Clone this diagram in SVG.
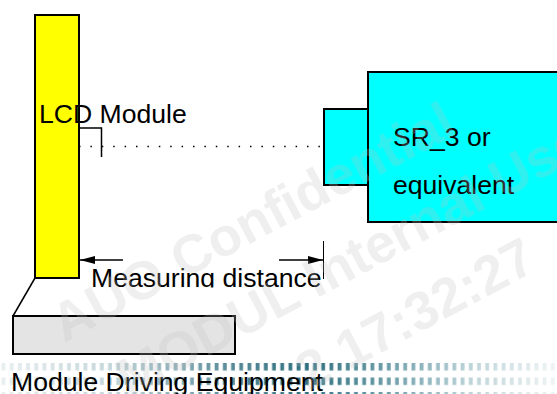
<svg xmlns="http://www.w3.org/2000/svg" width="557" height="394" viewBox="0 0 557 394">
<defs>
<marker id="ah" markerUnits="userSpaceOnUse" markerWidth="15" markerHeight="9" refX="15" refY="4.5" orient="auto"><path d="M0 0.500L15 4.500L0 8.500Z" fill="#000"/></marker>
<linearGradient id="fade" x1="0" x2="557" y1="0" y2="0" gradientUnits="userSpaceOnUse"><stop offset="0" stop-color="#e8eff0"/><stop offset=".2" stop-color="#c4d6da"/><stop offset=".4" stop-color="#5f8f9c"/><stop offset=".55" stop-color="#2f6f80"/><stop offset=".7" stop-color="#6f9faa"/><stop offset=".85" stop-color="#bfd5da"/><stop offset="1" stop-color="#f0f4f5"/></linearGradient>
<pattern id="dots" width="8.200" height="14.500" patternUnits="userSpaceOnUse" x="0" y="363"><rect x="1.500" y="0" width="3.800" height="7.500" fill="#fff"/></pattern>
<mask id="dotmask" maskUnits="userSpaceOnUse" x="0" y="360" width="557" height="34"><rect x="0" y="360" width="557" height="34" fill="url(#dots)"/></mask>
<clipPath id="mclip"><rect x="85" y="260" width="245" height="27.500"/></clipPath>
</defs>
<style>
text{font-family:"Liberation Sans",Arial,sans-serif;fill:#000}
.t{font-size:26.600px}
.box{stroke:#000;stroke-width:2}
.wm{font-size:54px;font-weight:bold;fill:#c0c0c0;fill-opacity:.25}
.ln{stroke:#000;stroke-width:1.500;fill:none}
</style>
<rect width="557" height="394" fill="#fff"/>
<g id="strip"><rect x="0" y="360" width="557" height="34" fill="url(#fade)" mask="url(#dotmask)"/></g>
<g id="lcd"><rect class="box" x="35" y="15" width="44" height="263" fill="#ff0"/></g>
<g id="equip"><rect class="box" x="13" y="316" width="222" height="38" fill="#e4e4e4"/></g>
<g id="sensor"><rect class="box" x="324" y="109" width="45" height="76" fill="#0ff"/><rect class="box" x="368" y="72" width="195" height="150" fill="#0ff"/></g>
<g id="connectors">
<path class="ln" d="M79 128H101.500V157"/>
<path d="M79 146.500H322" stroke="#000" stroke-width="1.500" stroke-dasharray="1.500 9.900" fill="none"/>
<path class="ln" d="M35 278L13 316"/>
<path class="ln" d="M123 260H80" marker-end="url(#ah)"/>
<path class="ln" d="M279 260H323" marker-end="url(#ah)"/>
<path d="M323.500 241V279" stroke="#000" stroke-width="1"/>
</g>
<g id="labels">
<text class="t" x="39" y="123">LCD Module</text>
<text class="t" x="393" y="146">SR_3 or</text>
<text class="t" x="393" y="194">equivalent</text>
<g clip-path="url(#mclip)"><text class="t" x="91" y="287">Measuring distance</text></g>
<text class="t" x="11" y="390.500">Module Driving Equipment</text>
</g>
<g id="watermark">
<text class="wm" transform="rotate(-28 64 343)" x="64" y="343">AUO Confidential</text>
<text class="wm" transform="rotate(-28 129 398)" x="129" y="398">MODUL Internal Use</text>
<text class="wm" transform="rotate(-28 539 269)" x="539" y="269" text-anchor="end">2 17:32:27</text>
</g>
</svg>
